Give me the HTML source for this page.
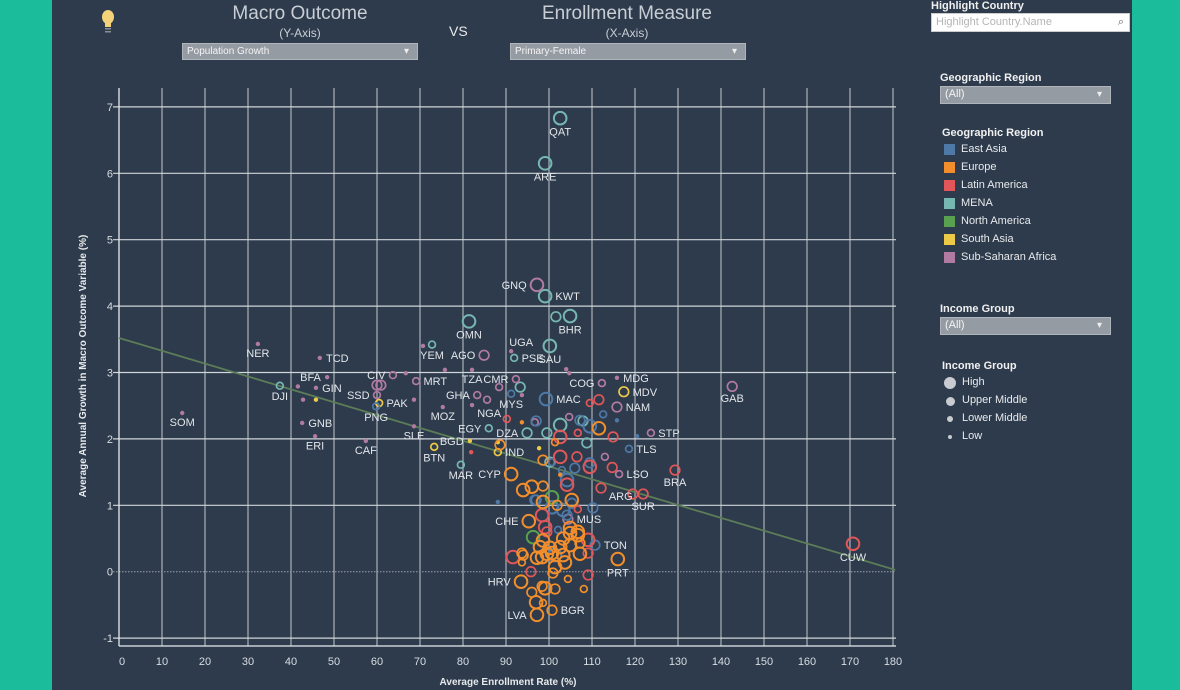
<!DOCTYPE html>
<html><head><meta charset="utf-8"><style>
body{margin:0;width:1180px;height:690px;overflow:hidden;background:#1bbc9b;font-family:"Liberation Sans",sans-serif;}
#panel{position:absolute;left:52px;top:0;width:1080px;height:690px;background:#2d3b4c;}
.t{position:absolute;color:#d8dde2;white-space:nowrap}
.dd{position:absolute;background:#959ba3;border:1px solid #b0b5bb;color:#f4f4f4;font-size:10px;line-height:15px;padding-left:4px;box-sizing:border-box}
.dd:after{content:"\25BE";position:absolute;right:8px;top:0;font-size:10px;color:#eee}
.lg{position:absolute;font-size:11px;color:#e8eaec}
.sw{position:absolute;width:11px;height:11px}
</style></head><body>
<div id="panel"></div>
<svg style="position:absolute;left:98px;top:8px" width="20" height="28"><ellipse cx="10" cy="9" rx="6" ry="7" fill="#f3d27a"/><rect x="7" y="15" width="6" height="4" fill="#f3d27a"/><rect x="7" y="20" width="6" height="1.5" fill="#8a8f96"/><rect x="7" y="23" width="6" height="1.5" fill="#8a8f96"/></svg>
<div class="t" style="left:200px;top:3px;width:200px;text-align:center;font-size:19px;color:#c9ced4">Macro Outcome</div>
<div class="t" style="left:200px;top:26px;width:200px;text-align:center;font-size:12px;color:#c9ced4">(Y-Axis)</div>
<div class="dd" style="left:182px;top:43px;width:236px;height:17px">Population Growth</div>
<div class="t" style="left:449px;top:23px;font-size:14px;color:#e8eaec">VS</div>
<div class="t" style="left:527px;top:3px;width:200px;text-align:center;font-size:19px;color:#c9ced4">Enrollment Measure</div>
<div class="t" style="left:527px;top:26px;width:200px;text-align:center;font-size:12px;color:#c9ced4">(X-Axis)</div>
<div class="dd" style="left:510px;top:43px;width:236px;height:17px">Primary-Female</div>

<div class="t" style="left:931px;top:0px;font-size:11px;font-weight:bold;color:#f0f0f0">Highlight Country</div>
<div style="position:absolute;left:931px;top:13px;width:199px;height:19px;background:#fff;border:1px solid #ccc;box-sizing:border-box;font-size:11px;color:#b5b5b5;line-height:16px;padding-left:4px">Highlight Country.Name<span style="position:absolute;right:5px;color:#666">&#8981;</span></div>

<div class="t" style="left:940px;top:72px;font-size:11px;font-weight:bold;color:#f0f0f0">Geographic Region</div>
<div class="dd" style="left:940px;top:86px;width:171px;height:18px;font-size:11px">(All)</div>
<div class="t" style="left:942px;top:127px;font-size:11px;font-weight:bold;color:#f0f0f0">Geographic Region</div>
<div id="regLegend"></div>

<div class="t" style="left:940px;top:303px;font-size:11px;font-weight:bold;color:#f0f0f0">Income Group</div>
<div class="dd" style="left:940px;top:317px;width:171px;height:18px;font-size:11px">(All)</div>
<div class="t" style="left:942px;top:360px;font-size:11px;font-weight:bold;color:#f0f0f0">Income Group</div>
<div id="incLegend"></div>

<svg id="chart" style="position:absolute;left:0;top:0" width="1180" height="690"></svg>

<script>
const regionNames = ['East Asia','Europe','Latin America','MENA','North America','South Asia','Sub-Saharan Africa'];
const regionKeys = ['E','U','L','M','N','S','A'];
const regionColors = ['#4e79a7','#f28e2b','#e15759','#76b7b2','#59a14f','#edc948','#b07aa1'];
const incomeNames = ['High','Upper Middle','Lower Middle','Low'];
const xTicks = [0,10,20,30,40,50,60,70,80,90,100,110,120,130,140,150,160,170,180];
const yTicks = [-1,0,1,2,3,4,5,6,7];
const trendIntercept = 3.52;
const trendSlope = -0.01935;
// [code, enrollment %, growth %, region, income(0=High..3=Low), label position]
const points = [
['QAT',102.6,6.83,'M',0,'b'],['ARE',99.1,6.15,'M',0,'b'],['KWT',99.1,4.15,'M',0,'r'],['',101.6,3.84,'M',1,''],['BHR',104.9,3.85,'M',0,'b'],
['OMN',81.4,3.77,'M',0,'b'],['YEM',72.8,3.42,'M',2,'b'],['PSE',91.9,3.22,'M',2,'r'],['SAU',100.2,3.40,'M',0,'b'],['DJI',37.4,2.80,'M',2,'b'],
['',93.3,2.78,'M',1,''],['EGY',86.0,2.16,'M',2,'l'],['DZA',94.9,2.09,'M',1,'l'],['',99.5,2.09,'M',1,''],['',102.6,2.21,'M',0,''],
['',107.9,2.27,'M',1,''],['',108.8,1.94,'M',1,''],['MAR',79.5,1.61,'M',2,'b'],['',100.2,1.65,'M',1,''],
['GNQ',97.2,4.32,'A',0,'l'],['AGO',84.9,3.26,'A',1,'l'],['UGA',91.2,3.32,'A',3,'t'],['NER',32.3,3.43,'A',3,'b'],['TCD',46.7,3.22,'A',3,'r'],
['BFA',48.4,2.93,'A',3,'l'],['GIN',45.8,2.77,'A',3,'r'],['',41.6,2.79,'A',3,''],['',42.8,2.59,'A',3,''],['CIV',63.7,2.96,'A',2,'l'],
['',60.0,2.81,'A',1,''],['',60.9,2.81,'A',1,''],['',66.7,2.99,'A',3,''],['MRT',69.1,2.87,'A',2,'r'],['',75.8,3.04,'A',3,''],
['TZA',82.1,3.04,'A',3,'b'],['',70.7,3.40,'A',3,''],['SSD',60.0,2.66,'A',2,'l'],['',68.6,2.59,'A',3,''],['MOZ',75.3,2.48,'A',3,'b'],
['GHA',83.3,2.66,'A',2,'l'],['',85.6,2.59,'A',2,''],['NGA',82.1,2.51,'A',3,'rb'],['CMR',92.3,2.90,'A',2,'l'],['',88.4,2.78,'A',2,''],
['',93.7,2.66,'A',3,''],['',104.0,3.05,'A',3,''],['',104.7,2.99,'A',3,''],['COG',112.3,2.84,'A',2,'l'],['MDG',115.8,2.92,'A',3,'r'],
['NAM',115.8,2.48,'A',1,'r'],['GAB',142.6,2.79,'A',1,'b'],['SOM',14.7,2.39,'A',3,'b'],['GNB',42.6,2.24,'A',3,'r'],['ERI',45.6,2.04,'A',3,'b'],
['CAF',57.4,1.97,'A',3,'b'],['SLE',68.6,2.19,'A',3,'b'],['STP',123.7,2.09,'A',2,'r'],['LSO',116.3,1.47,'A',2,'r'],['',96.7,2.25,'A',2,''],
['',104.7,2.33,'A',2,''],['',113.0,1.73,'A',2,''],['MUS',104.4,0.79,'A',1,'r'],
['PAK',60.5,2.54,'S',2,'r'],['',45.8,2.59,'S',3,''],['MDV',117.4,2.71,'S',1,'r'],['BTN',73.3,1.88,'S',2,'b'],['BGD',81.6,1.97,'S',3,'l'],
['IND',88.1,1.80,'S',2,'r'],['',88.1,1.95,'S',3,''],['',97.7,1.86,'S',3,''],
['PNG',59.8,2.49,'E',2,'b'],['MYS',91.2,2.68,'E',2,'b'],['MAC',99.3,2.60,'E',0,'r'],['',112.6,2.37,'E',2,''],['',115.8,2.28,'E',3,''],
['',120.5,2.04,'E',3,''],['TLS',118.6,1.85,'E',2,'r'],['',97.0,2.27,'E',1,''],['',107.2,2.28,'E',1,''],['',109.5,2.19,'E',0,''],
['',109.5,1.64,'E',1,''],['',106.0,1.56,'E',1,''],['',103.0,1.53,'E',2,''],['',100.7,1.65,'E',2,''],['',104.2,1.38,'E',0,''],
['',96.7,1.08,'E',1,''],['',100.7,0.97,'E',0,''],['',103.3,0.93,'E',0,''],['',105.3,1.03,'E',1,''],['',110.2,0.96,'E',1,''],
['',88.1,1.05,'E',3,''],['',102.1,0.63,'E',2,''],['TON',110.7,0.40,'E',1,'r'],['',101.4,0.25,'E',0,''],['',97.0,1.08,'E',1,''],['',104.2,0.85,'E',1,''],
['CUW',170.7,0.42,'L',0,'b'],['BRA',129.3,1.53,'L',1,'b'],['SUR',121.9,1.17,'L',1,'b'],['',119.5,1.17,'L',1,''],['ARG',112.1,1.26,'L',1,'rb'],
['',111.6,2.59,'L',1,''],['',109.5,2.54,'L',2,''],['',90.2,2.30,'L',2,''],['',81.9,1.80,'L',3,''],['',102.6,2.03,'L',0,''],
['',106.7,2.09,'L',2,''],['',114.9,2.03,'L',1,''],['',102.6,1.73,'L',0,''],['',106.5,1.73,'L',1,''],['',109.5,1.58,'L',0,''],
['',114.7,1.57,'L',1,''],['',104.2,1.31,'L',0,''],['',106.7,0.94,'L',2,''],['',98.4,0.85,'L',0,''],['',99.1,0.67,'L',0,''],
['',109.1,0.48,'L',0,''],['',91.6,0.22,'L',0,''],['',109.1,0.28,'L',1,''],['',95.8,0.0,'L',1,''],['',109.1,-0.05,'L',1,''],['',99.5,0.60,'L',1,''],
['',100.7,1.12,'N',0,''],['',96.3,0.52,'N',0,''],
['CYP',91.2,1.47,'U',0,'l'],['',88.6,1.91,'U',1,''],['',101.4,1.95,'U',2,''],['',98.6,1.68,'U',1,''],['',102.6,1.46,'U',3,''],
['',94.0,1.23,'U',0,''],['',96.0,1.28,'U',0,''],['',98.6,1.29,'U',1,''],['',98.6,1.05,'U',0,''],['',101.9,1.00,'U',1,''],
['',105.3,1.08,'U',0,''],['',93.7,2.25,'U',3,''],['',111.6,2.16,'U',0,''],['CHE',95.3,0.76,'U',0,'l'],['',104.9,0.66,'U',0,''],
['',106.7,0.60,'U',0,''],['',98.6,0.47,'U',0,''],['',103.3,0.50,'U',0,''],['',107.2,0.43,'U',1,''],['',106.7,0.55,'U',0,''],
['',104.9,0.58,'U',0,''],['',97.9,0.37,'U',0,''],['',100.2,0.36,'U',0,''],['',102.6,0.37,'U',0,''],['',104.9,0.40,'U',0,''],
['',99.5,0.27,'U',0,''],['',103.3,0.25,'U',0,''],['',98.4,0.22,'U',0,''],['',94.0,0.25,'U',1,''],['',107.2,0.27,'U',0,''],
['',93.7,0.28,'U',1,''],['',93.7,0.14,'U',2,''],['',97.2,0.21,'U',0,''],['',100.7,0.28,'U',0,''],['',101.4,0.07,'U',0,''],
['',103.7,0.14,'U',0,''],['PRT',116.0,0.19,'U',0,'b'],['',100.9,-0.02,'U',1,''],['',104.4,-0.11,'U',2,''],['HRV',93.5,-0.15,'U',0,'l'],
['',99.1,-0.25,'U',0,''],['',98.4,-0.22,'U',1,''],['',101.4,-0.26,'U',1,''],['',96.0,-0.31,'U',1,''],['',97.0,-0.46,'U',0,''],
['',98.6,-0.47,'U',2,''],['',108.1,-0.26,'U',2,''],['BGR',100.7,-0.58,'U',1,'r'],['LVA',97.2,-0.65,'U',0,'l']
];

const NS='http://www.w3.org/2000/svg';
const svg=document.getElementById('chart');
const L=119,R=896,T=88,B=646;
const X0=119, XS=4.3, Y0=571.7, YS=66.4;
const sx=v=>X0+v*XS, sy=v=>Y0-v*YS;
function mk(tag,attrs,parent){const e=document.createElementNS(NS,tag);for(const k in attrs)e.setAttribute(k,attrs[k]);(parent||svg).appendChild(e);return e;}

const grid=mk('g',{});


xTicks.forEach(v=>{
  if(v===0) return;
  const l=mk('line',{x1:sx(v),x2:sx(v),y1:T,y2:B,stroke:'#a9b0b8','stroke-width':1.2},grid);
  
  
  const t=mk('text',{x:sx(v),y:665,'text-anchor':'middle','font-size':11,fill:'#d8dde2'});
  t.textContent=v;
  
  
});
{const t=mk('text',{x:sx(0)+3,y:665,'text-anchor':'middle','font-size':11,fill:'#d8dde2'});t.textContent='0';

}
yTicks.forEach(v=>{
  const l=mk('line',{x1:L-6,x2:R,y1:sy(v),y2:sy(v),stroke:v===0?'#9aa3ad':'#d0d5da','stroke-width':v===0?1:1.2,'stroke-dasharray':v===0?'1.5 1.5':'none'},grid);
  
  
  const t=mk('text',{x:L-6,y:sy(v)+4,'text-anchor':'end','font-size':11,fill:'#d8dde2'});
  t.textContent=v;
  
  
});
{const a=mk('line',{x1:L,x2:L,y1:T,y2:B,stroke:'#e8ebee','stroke-width':1.3});


const b=mk('line',{x1:L,x2:R,y1:B,y2:B,stroke:'#e8ebee','stroke-width':1.3});

}

const xt=mk('text',{x:508,y:685,'text-anchor':'middle','font-size':10,'font-weight':'bold',fill:'#e8eaec'});
xt.textContent='Average Enrollment Rate (%)';


const yt=mk('text',{x:0,y:0,'text-anchor':'middle','font-size':10,'font-weight':'bold',fill:'#e8eaec',transform:'translate(86,366) rotate(-90)'});
yt.textContent='Average Annual Growth in Macro Outcome Variable (%)';



const xEnd=180.5;
const tl=mk('line',{x1:sx(0),y1:sy(trendIntercept),x2:sx(xEnd),y2:sy(trendIntercept+trendSlope*xEnd),stroke:'#5c7d57','stroke-width':1.8});



const radii=[6.3,4.8,3.4,2.2];
const marks=mk('g',{});


points.forEach(p=>{
  const col=regionColors[regionKeys.indexOf(p[3])];
  const r=radii[p[4]];
  const c=mk('circle',{cx:sx(p[1]),cy:sy(p[2]),r:r,fill:p[4]===3?col:'none',stroke:p[4]===3?'none':col,'stroke-width':p[4]===0?2:1.7},marks);
  
  
});
points.forEach(p=>{
  if(!p[0]) return;
  const x=sx(p[1]),y=sy(p[2]),r=radii[p[4]];
  let tx=x,ty=y,anc='middle';
  if(p[5]==='b'){ty=y+r+11;}
  else if(p[5]==='t'){ty=y-r-3;tx=x+10;}
  else if(p[5]==='r'){tx=x+r+4;ty=y+4;anc='start';}
  else if(p[5]==='rb'){tx=x+r+3;ty=y+12;anc='start';}
  else if(p[5]==='l'){tx=x-r-4;ty=y+4;anc='end';}
  const t=mk('text',{x:tx,y:ty,'text-anchor':anc,'font-size':11,fill:'#e3e6ea'});
  t.textContent=p[0];
  
  
});

// legends
const rl=document.getElementById('regLegend');
regionNames.forEach((n,i)=>{
  const s=document.createElement('div');s.className='sw';
  s.style.left='944px';s.style.top=(144+i*18)+'px';s.style.background=regionColors[i];
  
  
  rl.appendChild(s);
  const d=document.createElement('div');d.className='lg';
  d.style.left='961px';d.style.top=(143+i*18)+'px';d.textContent=n;
  
  
  rl.appendChild(d);
});
const il=document.getElementById('incLegend');
const lr=[6,4.5,3.2,2];
incomeNames.forEach((n,i)=>{
  const s=document.createElement('div');
  const r=lr[i];
  s.style.cssText='position:absolute;border-radius:50%;background:#c8cbcf;width:'+(2*r)+'px;height:'+(2*r)+'px;left:'+(950-r)+'px;top:'+(383+i*18-r)+'px';
  
  
  il.appendChild(s);
  const d=document.createElement('div');d.className='lg';
  d.style.left='962px';d.style.top=(376+i*18)+'px';d.textContent=n;
  
  
  il.appendChild(d);
});
</script>
</body></html>
